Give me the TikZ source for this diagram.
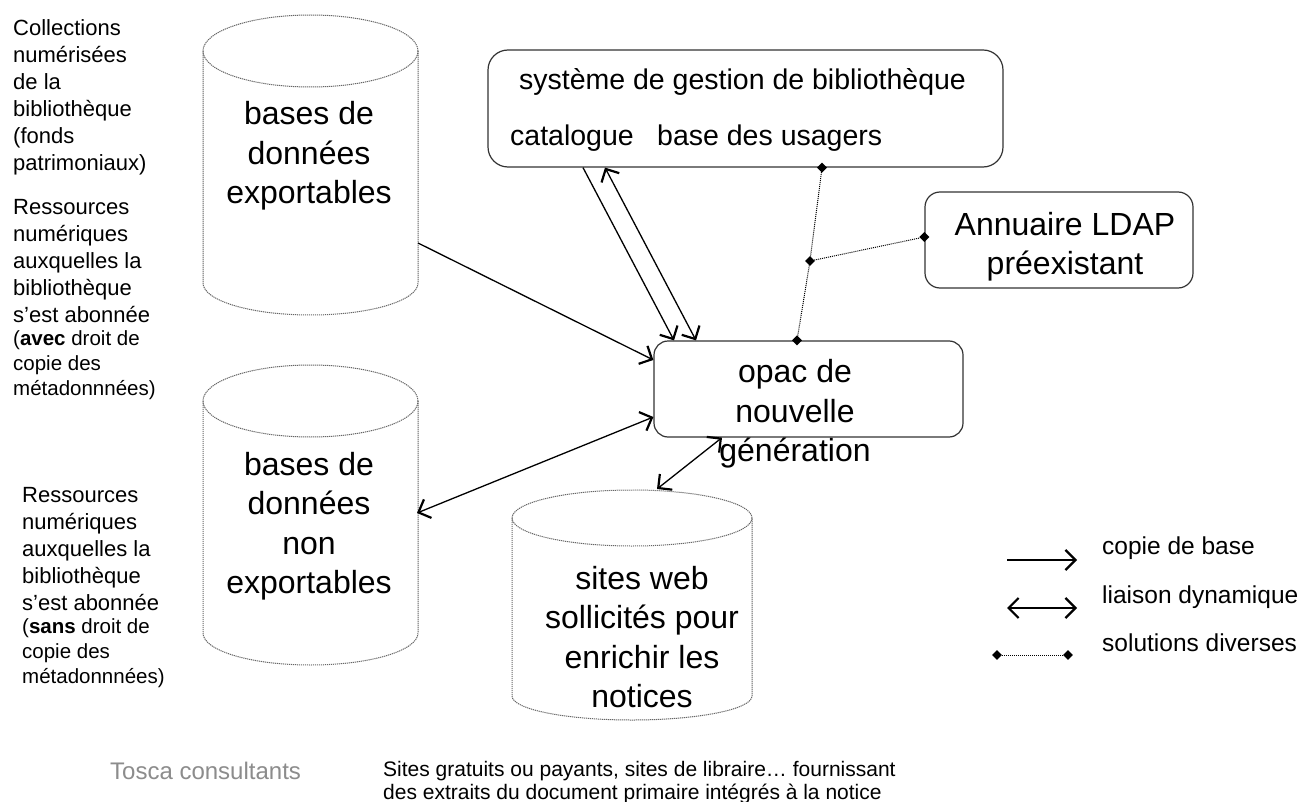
\documentclass[tikz,border=0pt]{standalone}
\usepackage{fontspec}
\setmainfont{Liberation Sans}
\usetikzlibrary{arrows.meta, shapes.geometric}

\begin{document}
\begin{tikzpicture}[
    x=1pt, y=1pt,
    roundbox/.style={draw=black!80, line width=1.2pt, rounded corners=#1, inner sep=0pt},
    roundbox/.default=15pt,
    cylline/.style={draw=black!60, line width=1pt, dash pattern=on 1.2pt off 0.8pt},
    bigtext/.style={font=\fontsize{32}{39.5}\selectfont, align=center, inner sep=0pt},
    systext/.style={font=\fontsize{28.5}{34}\selectfont, inner sep=0pt},
    sidetext/.style={font=\fontsize{22}{27}\selectfont, align=left, inner sep=0pt, anchor=west},
    sidesmall/.style={font=\fontsize{20.5}{25}\selectfont, align=left, inner sep=0pt, anchor=west},
    legtext/.style={font=\fontsize{24.5}{29}\selectfont, inner sep=0pt, anchor=west},
    notetext/.style={font=\fontsize{21}{23}\selectfont, align=left, inner sep=0pt, anchor=west},
    barb/.tip={Straight Barb[length=10pt, width=20pt, line width=2.2pt]},
    copyarr/.style={line width=1.3pt, -barb},
    dynarr/.style={line width=1.3pt, barb-barb},
    dotline/.style={line width=1pt, dash pattern=on 1pt off 1pt},
    dmd/.style={diamond, fill=black, inner sep=0pt, minimum size=10pt}
]

\fill[white] (0,0) rectangle (1300,-802);
\useasboundingbox (0,0) rectangle (1300,-802);

% Cylinders: left x / right x / top centre / top radius / bottom centre / bottom radius
\foreach \xl/\xr/\yt/\rt/\yb/\rb in {203/418/51/36/283/32, 203/418/401/36/633/32, 512/752/518/28/696/24} {
    \pgfmathsetmacro{\xc}{(\xl+\xr)/2}
    \pgfmathsetmacro{\rx}{(\xr-\xl)/2}
    \draw[cylline] (\xc,-\yt) ellipse [x radius=\rx, y radius=\rt];
    \draw[cylline] (\xl,-\yt) -- (\xl,-\yb) arc[start angle=180, end angle=360, x radius=\rx, y radius=\rb] -- (\xr,-\yt);
}
\node[bigtext] (exptext) at (309,-156) {bases de\\données\\exportables};
\node[bigtext] (nonexptext) at (309,-526) {bases de\\données\\non\\exportables};
\node[bigtext] (sitestext) at (642,-637) {sites web\\sollicités pour\\enrichir les\\notices};
\coordinate (expout) at (418,-243);
\coordinate (nonexpin) at (417,-513);
\coordinate (sitestop) at (657,-489);

% Boxes
\node[roundbox=20pt, minimum width=515pt, minimum height=117pt] (sys) at (745.5,-108.5) {};
\node[systext] (systitle) at (742.5,-82) {système de gestion de bibliothèque};
\node[systext, anchor=west] (catalogue) at (510,-138) {catalogue};
\node[systext, anchor=west] (usagers) at (657,-138) {base des usagers};

\node[roundbox=15pt, minimum width=268pt, minimum height=96pt] (ldap) at (1059,-240) {};
\node[bigtext] (ldaptext) at (1065,-246.5) {Annuaire LDAP\\préexistant};

\node[roundbox=14pt, minimum width=309pt, minimum height=96pt] (opac) at (808.5,-389) {};
\node[bigtext] (opactext) at (795,-414) {opac de\\nouvelle\\génération};

% Side texts
\node[sidetext] (collections) at (13,-97.5) {Collections\\numérisées\\de la\\bibliothèque\\(fonds\\patrimoniaux)};
\node[sidetext] (resexp) at (13,-261) {Ressources\\numériques\\auxquelles la\\bibliothèque\\s’est abonnée};
\node[sidesmall] (resexpdroit) at (13,-365) {(\textbf{avec} droit de\\copie des\\métadonnnées)};
\node[sidetext] (resnon) at (22,-549) {Ressources\\numériques\\auxquelles la\\bibliothèque\\s’est abonnée};
\node[sidesmall] (resnondroit) at (22,-653) {(\textbf{sans} droit de\\copie des\\métadonnnées)};

% Connectors
\draw[copyarr] (expout) -- (opac.west |- 0,-360);
\draw[dynarr] (nonexpin) -- (opac.west |- 0,-417);
\draw[copyarr] (583,0 |- sys.south) -- (674,0 |- opac.north);
\draw[dynarr] (696,0 |- opac.north) -- (605,0 |- sys.south);
\draw[dynarr] (722,0 |- opac.south) -- (sitestop);

\node[dmd] (dsys) at (822,0 |- sys.south) {};
\node[dmd] (dmid) at (810,-261) {};
\node[dmd] (dopac) at (797,0 |- opac.north) {};
\node[dmd] (dldap) at (ldap.west |- 0,-237) {};
\draw[dotline] (dsys) -- (dmid) -- (dopac);
\draw[dotline] (dmid) -- (dldap);

% Legend
\coordinate (k1a) at (1007,-560);
\coordinate (k1b) at (1077,-560);
\coordinate (k2a) at (1007,-608);
\coordinate (k2b) at (1077,-608);
\draw[copyarr] (k1a) -- (k1b);
\draw[dynarr] (k2a) -- (k2b);
\node[dmd] (kd1) at (997,-655) {};
\node[dmd] (kd2) at (1068,-655) {};
\draw[dotline] (kd1) -- (kd2);
\node[legtext] (legcopy) at (1102,-548) {copie de base};
\node[legtext] (legdyn) at (1102,-597) {liaison dynamique};
\node[legtext] (legsol) at (1102,-643) {solutions diverses};

% Bottom notes
\node[legtext, text=black!45, font=\fontsize{24}{28}\selectfont] (tosca) at (110,-771) {Tosca consultants};
\node[notetext] (sitesnote) at (383,-783) {Sites gratuits ou payants, sites de libraire… fournissant\\des extraits du document primaire intégrés à la notice};

\end{tikzpicture}
\end{document}
